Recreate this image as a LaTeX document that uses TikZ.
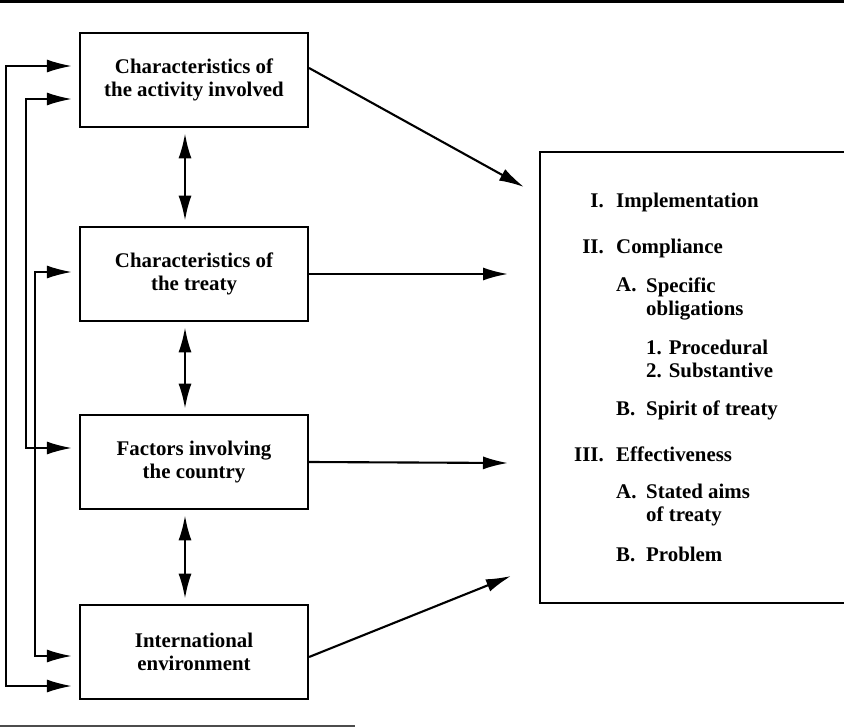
\documentclass[tikz,border=0pt]{standalone}
\usepackage{fontspec}
\setmainfont{Liberation Serif}
\usetikzlibrary{arrows.meta,positioning,calc}
\tikzset{
  >={Latex[length=7.5mm,width=3.9mm]},
  factor/.style={draw,line width=1.8pt,minimum width=68.4mm,minimum height=28.4mm,align=center,inner sep=0pt,font=\bfseries\fontsize{17.8}{19.6}\selectfont},
  outline/.style={draw,line width=1.8pt,minimum width=102mm,minimum height=135.3mm},
  lbl/.style={anchor=base east,inner sep=0pt,font=\bfseries\fontsize{17.8}{19.6}\selectfont},
  itm/.style={anchor=base west,align=left,inner sep=0pt,font=\bfseries\fontsize{17.8}{19.6}\selectfont},
  link/.style={line width=1.8pt}
}
\begin{document}
\begin{tikzpicture}[x=0.3mm,y=-0.3mm]
\useasboundingbox(0,0)rectangle(844,728);
\clip(0,0)rectangle(844,728);
\draw[line width=2.5pt](0,1.5)--(844,1.5);
\draw[line width=1pt,black!70](0,726)--(355,726);
\node[factor](act)at(194,80){Characteristics of\\the activity involved};
\node[factor](trt)at(194,274){Characteristics of\\the treaty};
\node[factor](cty)at(194,462){Factors involving\\the country};
\node[factor](env)at(194,652){International\\environment};
\node[outline](res)at(710,377.5){};
\node[lbl](n1)at(604,207){I.};\node[itm](t1)at(616,207){Implementation};
\node[lbl](n2)at(604,254){II.};\node[itm](t2)at(616,254){Compliance};
\node[itm](n2a)at(616,292){A.};\node[itm](t2a)at(646,315){Specific\\obligations};
\node[itm](t2a1)at(646,377){1. Procedural\\2. Substantive};
\node[itm](n2b)at(616,415){B.};\node[itm](t2b)at(646,415){Spirit of treaty};
\node[lbl](n3)at(604,461){III.};\node[itm](t3)at(616,461){Effectiveness};
\node[itm](n3a)at(616,498){A.};\node[itm](t3a)at(646,521){Stated aims\\of treaty};
\node[itm](n3b)at(616,561){B.};\node[itm](t3b)at(646,561){Problem};
\coordinate(e1)at(524,187);\coordinate(e2)at(508,274);
\coordinate(e3)at(508,463);\coordinate(e4)at(511,576);
\draw[link,->]([yshift=3.6mm]act.east)--(e1);
\draw[link,->](trt.east)--(e2);
\draw[link,->](cty.east)--(e3);
\draw[link,->]([yshift=-1.5mm]env.east)--(e4);
\draw[link,<->,shorten <=1.5mm,shorten >=1.5mm]([xshift=-2.7mm]act.south)--([xshift=-2.7mm]trt.north);
\draw[link,<->,shorten <=1.5mm,shorten >=1.5mm]([xshift=-2.7mm]trt.south)--([xshift=-2.7mm]cty.north);
\draw[link,<->,shorten <=1.5mm,shorten >=1.5mm]([xshift=-2.7mm]cty.south)--([xshift=-2.7mm]env.north);
\draw[link,<->,shorten <=2.1mm,shorten >=2.1mm]([yshift=4.2mm]act.west)--++(-73,0)|-([yshift=-10.2mm]env.west);
\draw[link,<->,shorten <=2.1mm,shorten >=2.1mm]([yshift=-5.7mm]act.west)--++(-53,0)|-([yshift=4.2mm]cty.west);
\draw[link,<->,shorten <=2.1mm,shorten >=2.1mm]([yshift=0.6mm]trt.west)--++(-44,0)|-([yshift=-1.2mm]env.west);
\end{tikzpicture}
\end{document}
